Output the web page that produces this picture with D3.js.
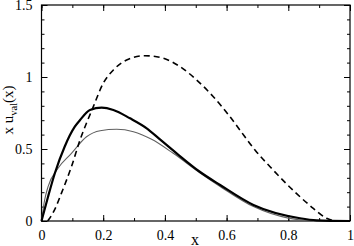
<!DOCTYPE html>
<html><head><meta charset="utf-8">
<script src="https://cdn.jsdelivr.net/npm/d3@7"></script>
<style>body{margin:0;background:#fff}svg{display:block}</style>
</head><body>
<svg id="c" width="354" height="246"></svg>
<script>
const xTicks = [0, 0.2, 0.4, 0.6, 0.8, 1];
const xTickLabels = ["0", "0.2", "0.4", "0.6", "0.8", "1"];
const yTicks = [0, 0.5, 1, 1.5];
const yTickLabels = ["0", "0.5", "1", "1.5"];

const dashedX = [0.02,0.026,0.045,0.064,0.097,0.125,0.168,0.2,0.233,0.276,0.335,0.395,0.449,0.503,0.557,0.611,0.643,0.692,0.751,0.827,0.881,0.924,0.95];
const dashedY = [0,0.017,0.09,0.19,0.377,0.563,0.794,0.956,1.049,1.118,1.148,1.13,1.072,0.979,0.863,0.724,0.632,0.493,0.354,0.19,0.088,0.019,0];

const thickX = [0,0.021,0.043,0.075,0.108,0.125,0.157,0.195,0.233,0.287,0.341,0.384,0.438,0.513,0.579,0.687,0.838,0.892,1];
const thickY = [0,0.167,0.33,0.516,0.655,0.701,0.771,0.787,0.771,0.713,0.644,0.567,0.47,0.342,0.25,0.111,0.019,0.005,0];

const thinX = [0,0.01,0.021,0.053,0.097,0.146,0.19,0.244,0.298,0.357,0.427,0.513,0.579,0.687,0.8,0.87,1];
const thinY = [0,0.144,0.237,0.365,0.47,0.585,0.627,0.637,0.62,0.567,0.47,0.335,0.24,0.1,0.02,0.003,0];

const svg = d3.select("#c");
const L = 41.5, R = 350, T = 5, B = 221;
const x = d3.scaleLinear().domain([0,1]).range([L,R]);
const y = d3.scaleLinear().domain([0,1.5]).range([B,T]);
const font = "Liberation Serif";

const minorX = d3.range(0, 1.0001, 0.1);
const minorY = d3.range(0, 1.5001, 0.1);

function axisG(axis, tx, ty) {
  const g = svg.append("g").attr("transform", `translate(${tx},${ty})`).call(axis);
  g.attr("font-family", font);
  g.select(".domain").remove();
  g.selectAll("line").attr("stroke", "#000");
  return g;
}
// minor ticks
axisG(d3.axisBottom(x).tickValues(minorX).tickSize(-3).tickFormat(""), 0, B);
axisG(d3.axisTop(x).tickValues(minorX).tickSize(-3).tickFormat(""), 0, T);
axisG(d3.axisLeft(y).tickValues(minorY).tickSize(-3).tickFormat(""), L, 0);
axisG(d3.axisRight(y).tickValues(minorY).tickSize(-3).tickFormat(""), R, 0);
// major ticks
const gxb = axisG(d3.axisBottom(x).tickValues(xTicks).tickSize(-6).tickPadding(9).tickFormat((d,i)=>xTickLabels[i]), 0, B);
axisG(d3.axisTop(x).tickValues(xTicks).tickSize(-6).tickFormat(""), 0, T);
const gyl = axisG(d3.axisLeft(y).tickValues(yTicks).tickSize(-6).tickPadding(9).tickFormat((d,i)=>yTickLabels[i]), L, 0);
axisG(d3.axisRight(y).tickValues(yTicks).tickSize(-6).tickFormat(""), R, 0);
[gxb, gyl].forEach(g => g.selectAll("text").attr("font-family", font).attr("font-size", 14).attr("fill", "#000"));
gyl.selectAll("text").attr("dy", "0.35em");
gxb.selectAll("text").attr("dy", "0.72em");

// frame
svg.append("rect").attr("x", L).attr("y", T).attr("width", R-L).attr("height", B-T)
  .attr("fill", "none").attr("stroke", "#000").attr("stroke-width", 1.2);

const line = d3.line().x(d=>x(d[0])).y(d=>y(d[1])).curve(d3.curveMonotoneX);
function draw(xs, ys, opts) {
  svg.append("path").datum(xs.map((v,i)=>[v, ys[i]])).attr("d", line)
    .attr("fill","none").attr("stroke", opts.color).attr("stroke-width", opts.w)
    .attr("stroke-dasharray", opts.dash || null).attr("stroke-linejoin","round");
}
draw(thinX, thinY, {color:"#606060", w:1.1});
draw(thickX, thickY, {color:"#000", w:2.2});
draw(dashedX, dashedY, {color:"#000", w:1.6, dash:"6,4"});

// axis labels
svg.append("text").attr("x", 195).attr("y", 244.5).attr("text-anchor","middle")
  .attr("font-family", font).attr("font-size", 16).text("x");
const yl = svg.append("text").attr("transform", `translate(13,110) rotate(-90)`)
  .attr("text-anchor","middle").attr("font-family", font).attr("font-size", 15);
yl.append("tspan").text("x u");
yl.append("tspan").attr("font-size", 10.5).attr("dy", 4).text("val");
yl.append("tspan").attr("dy", -4).text("(x)");
</script>
</body></html>
